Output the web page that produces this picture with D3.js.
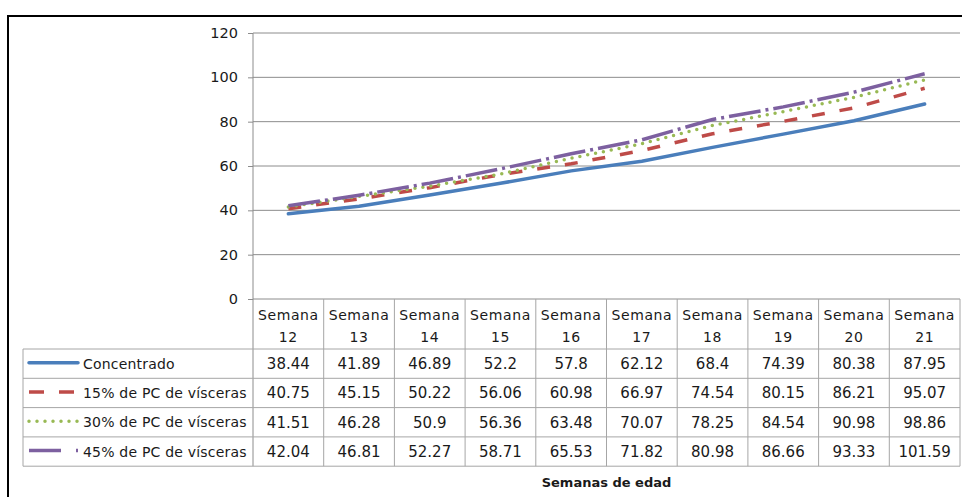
<!DOCTYPE html>
<html>
<head>
<meta charset="utf-8">
<script src="https://cdn.jsdelivr.net/npm/d3@7"></script>
<style>
  body { margin: 0; background: #fff; }
  svg text { font-family: "DejaVu Sans", sans-serif; fill: #1a1a1a; }
</style>
</head>
<body>
<script>
// Chart data
const weeks = ["12", "13", "14", "15", "16", "17", "18", "19", "20", "21"];
const seriesNames = ["Concentrado", "15% de PC de vísceras", "30% de PC de vísceras", "45% de PC de vísceras"];
const concentrado = [38.44, 41.89, 46.89, 52.2, 57.8, 62.12, 68.4, 74.39, 80.38, 87.95];
const pc15 = [40.75, 45.15, 50.22, 56.06, 60.98, 66.97, 74.54, 80.15, 86.21, 95.07];
const pc30 = [41.51, 46.28, 50.9, 56.36, 63.48, 70.07, 78.25, 84.54, 90.98, 98.86];
const pc45 = [42.04, 46.81, 52.27, 58.71, 65.53, 71.82, 80.98, 86.66, 93.33, 101.59];
const yTicks = [0, 20, 40, 60, 80, 100, 120];

const allSeries = [concentrado, pc15, pc30, pc45];
const styles = [
  { color: "#4a7ebb", dash: null, keyDash: null, cap: "round" },
  { color: "#be4b48", dash: "13,15", keyDash: "15,15", cap: "butt" },
  { color: "#98b954", dash: "0,8", keyDash: "0,8", cap: "round" },
  { color: "#7d60a0", dash: "32,5,3,5", keyDash: "32,15,3,20", cap: "butt" }
];

// Layout
const w = 962, h = 497;
const plotL = 253, plotR = 960, plotT = 33, zeroY = 299;
const headerH = 50, rowH = 29.3, keyLeft = 23;

const svg = d3.select("body").append("svg")
  .attr("width", w)
  .attr("height", h);

// Outer frame (continues past the right/bottom edges)
svg.append("rect")
  .attr("x", 8).attr("y", 16)
  .attr("width", 980).attr("height", 520)
  .attr("fill", "none")
  .attr("stroke", "#000")
  .attr("stroke-width", 2);

const x = d3.scaleBand().domain(weeks).range([plotL, plotR]);
const y = d3.scaleLinear().domain([0, 120]).range([zeroY, plotT]);

// Gridlines
svg.append("g")
  .selectAll("line")
  .data(yTicks)
  .join("line")
  .attr("x1", plotL).attr("x2", plotR)
  .attr("y1", d => y(d)).attr("y2", d => y(d))
  .attr("stroke", "#8c8c8c")
  .attr("stroke-width", 1);

// Y axis
const yAxis = svg.append("g")
  .attr("transform", `translate(${plotL},0)`)
  .call(d3.axisLeft(y).tickValues(yTicks).tickSize(5).tickPadding(10));
yAxis.select(".domain").remove();
yAxis.selectAll(".tick line").attr("stroke", "#8c8c8c");
yAxis.selectAll(".tick text")
  .style("font-size", "14.5px")
  .attr("fill", "#1a1a1a");

// Vertical axis line (down through the table)
const tableBottom = zeroY + headerH + rowH * seriesNames.length;
svg.append("line")
  .attr("x1", plotL).attr("x2", plotL)
  .attr("y1", plotT).attr("y2", tableBottom)
  .attr("stroke", "#8c8c8c");

// Series lines
const line = d3.line()
  .x((d, i) => x(weeks[i]) + x.bandwidth() / 2)
  .y(d => y(d));

svg.append("g")
  .selectAll("path")
  .data(allSeries)
  .join("path")
  .attr("d", d => line(d))
  .attr("fill", "none")
  .attr("stroke", (d, i) => styles[i].color)
  .attr("stroke-width", 3.5)
  .attr("stroke-linecap", (d, i) => styles[i].cap)
  .attr("stroke-dasharray", (d, i) => styles[i].dash);

// Data table
const table = svg.append("g");
const gridColor = "#a6a6a6";

// Column lines
table.selectAll("line.col")
  .data(weeks)
  .join("line")
  .attr("class", "col")
  .attr("x1", d => x(d) + x.bandwidth()).attr("x2", d => x(d) + x.bandwidth())
  .attr("y1", zeroY).attr("y2", tableBottom)
  .attr("stroke", gridColor);

// Row lines
const rowYs = d3.range(seriesNames.length + 1).map(i => zeroY + headerH + i * rowH);
table.selectAll("line.row")
  .data(rowYs)
  .join("line")
  .attr("class", "row")
  .attr("x1", keyLeft).attr("x2", plotR)
  .attr("y1", d => d).attr("y2", d => d)
  .attr("stroke", gridColor);

table.append("line")
  .attr("x1", keyLeft).attr("x2", keyLeft)
  .attr("y1", rowYs[0]).attr("y2", tableBottom)
  .attr("stroke", gridColor);

// Header labels
const header = table.selectAll("text.head")
  .data(weeks)
  .join("text")
  .attr("class", "head")
  .attr("text-anchor", "middle")
  .style("font-size", "14px")
  .style("letter-spacing", "0.6px");
header.append("tspan")
  .attr("x", d => x(d) + x.bandwidth() / 2)
  .attr("y", zeroY + 21)
  .text("Semana");
header.append("tspan")
  .attr("x", d => x(d) + x.bandwidth() / 2)
  .attr("y", zeroY + 43)
  .text(d => d);

// Rows
allSeries.forEach((vals, r) => {
  const cy = rowYs[r] + rowH / 2;
  const row = table.append("g");
  row.append("line")
    .attr("x1", 29).attr("x2", 78)
    .attr("y1", cy - 1).attr("y2", cy - 1)
    .attr("stroke", styles[r].color)
    .attr("stroke-width", 3.5)
    .attr("stroke-linecap", styles[r].cap)
    .attr("stroke-dasharray", styles[r].keyDash);
  row.append("text")
    .attr("x", 83).attr("y", cy + 5)
    .style("font-size", "14px")
    .style("letter-spacing", "0.2px")
    .text(seriesNames[r]);
  row.selectAll("text.val")
    .data(vals)
    .join("text")
    .attr("class", "val")
    .attr("x", (d, i) => x(weeks[i]) + x.bandwidth() / 2)
    .attr("y", cy + 5.5)
    .attr("text-anchor", "middle")
    .style("font-size", "15px")
    .text(d => d);
});

// X axis title
svg.append("text")
  .attr("x", (plotL + plotR) / 2)
  .attr("y", 487)
  .attr("text-anchor", "middle")
  .style("font-size", "13px")
  .style("font-weight", "bold")
  .text("Semanas  de edad");
</script>
</body>
</html>
